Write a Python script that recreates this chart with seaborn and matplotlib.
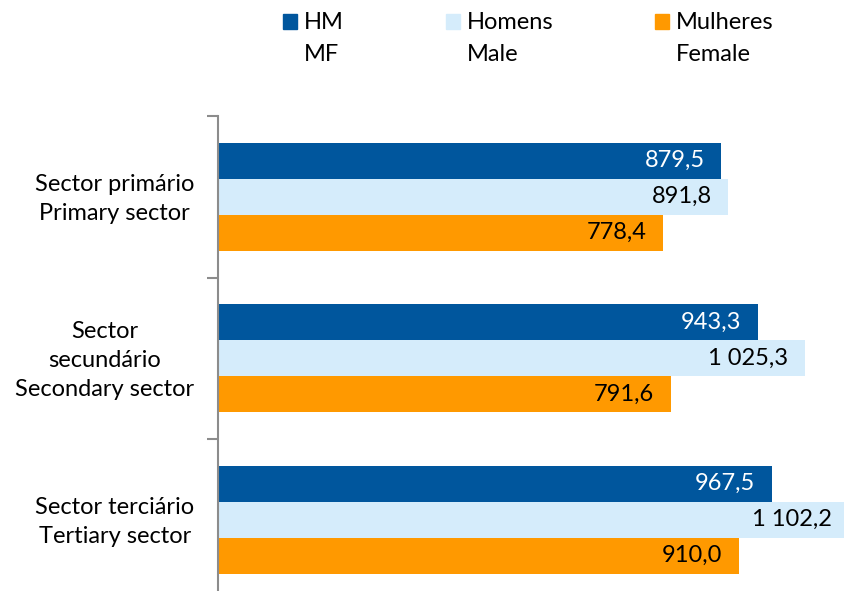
import matplotlib
matplotlib.use("Agg")
import matplotlib.pyplot as plt
from matplotlib.patches import Rectangle
from matplotlib.transforms import ScaledTranslation
import pandas as pd
import seaborn as sns

# data
sectors = ["Sector primário\nPrimary sector",
           "Sector\nsecundário\nSecondary sector",
           "Sector terciário\nTertiary sector"]
series = ["HM\nMF", "Homens\nMale", "Mulheres\nFemale"]
hm_values = [879.5, 943.3, 967.5]
homens_values = [891.8, 1025.3, 1102.2]
mulheres_values = [778.4, 791.6, 910.0]

colors = ["#00569D", "#D5ECFB", "#FF9900"]
label_colors = ["white", "black", "black"]

# long table for seaborn
df = pd.DataFrame({
    "sector": sectors * 3,
    "series": [s for s in series for _ in sectors],
    "value": hm_values + homens_values + mulheres_values,
})

sns.set_style("white")
plt.rcParams["font.family"] = ["Lato", "DejaVu Sans"]
plt.rcParams["font.size"] = 17
plt.rcParams["text.color"] = "black"

fig = plt.figure(figsize=(8.44, 5.91), dpi=100)
# axes runs a bit past the right and bottom edges, like the original crop
ax = fig.add_axes([218 / 844, 1 - 600.5 / 591, 630 / 844, 484.5 / 591])

sns.barplot(data=df, y="sector", x="value", hue="series", orient="h",
            palette=colors, width=0.669, saturation=1, linewidth=0,
            ax=ax, legend=False)

ax.set_xlim(0, 1100.8)
ax.set_xlabel("")
ax.set_ylabel("")
ax.xaxis.set_visible(False)
for side in ["top", "right", "bottom"]:
    ax.spines[side].set_visible(False)
ax.spines["left"].set_color("#8C8C8C")
ax.spines["left"].set_linewidth(1.5)

# category labels with no tick, boundary ticks as minor ticks
ax.set_yticks(range(len(sectors)), labels=sectors, multialignment="center",
              linespacing=1.5)
ax.set_yticks([-0.5, 0.5, 1.5, 2.5], minor=True)
ax.set_ylim(2.5, -0.5)
ax.tick_params(axis="y", which="major", length=0, pad=17, labelsize=17,
               labelcolor="black")
ax.tick_params(axis="y", which="minor", length=8, width=1.5, color="#8C8C8C",
               direction="out", left=True)
# nudge the labels up a little
shift = ScaledTranslation(0, 4 / 100, fig.dpi_scale_trans)
for lab in ax.get_yticklabels():
    lab.set_transform(lab.get_transform() + shift)


def fmt(v):
    return f"{v:,.1f}".replace(",", " ").replace(".", ",")


for cont, tcol in zip(ax.containers, label_colors):
    texts = ax.bar_label(cont, labels=[fmt(b.get_width()) for b in cont],
                         padding=-12, color=tcol, fontsize=17,
                         annotation_clip=False)
    for t in texts:
        t.set_ha("right")

# legend drawn at the top of the figure
leg_x = [283, 446, 655]
for x, name, col in zip(leg_x, series, colors):
    fig.patches.append(Rectangle((x / 844, 1 - 29 / 591), 14 / 844, 15 / 591,
                                 transform=fig.transFigure, color=col))
    fig.text((x + 21) / 844, 1 - 12 / 591, name, ha="left", va="top",
             fontsize=17, linespacing=1.62)

fig.savefig("out.png", dpi=100)
